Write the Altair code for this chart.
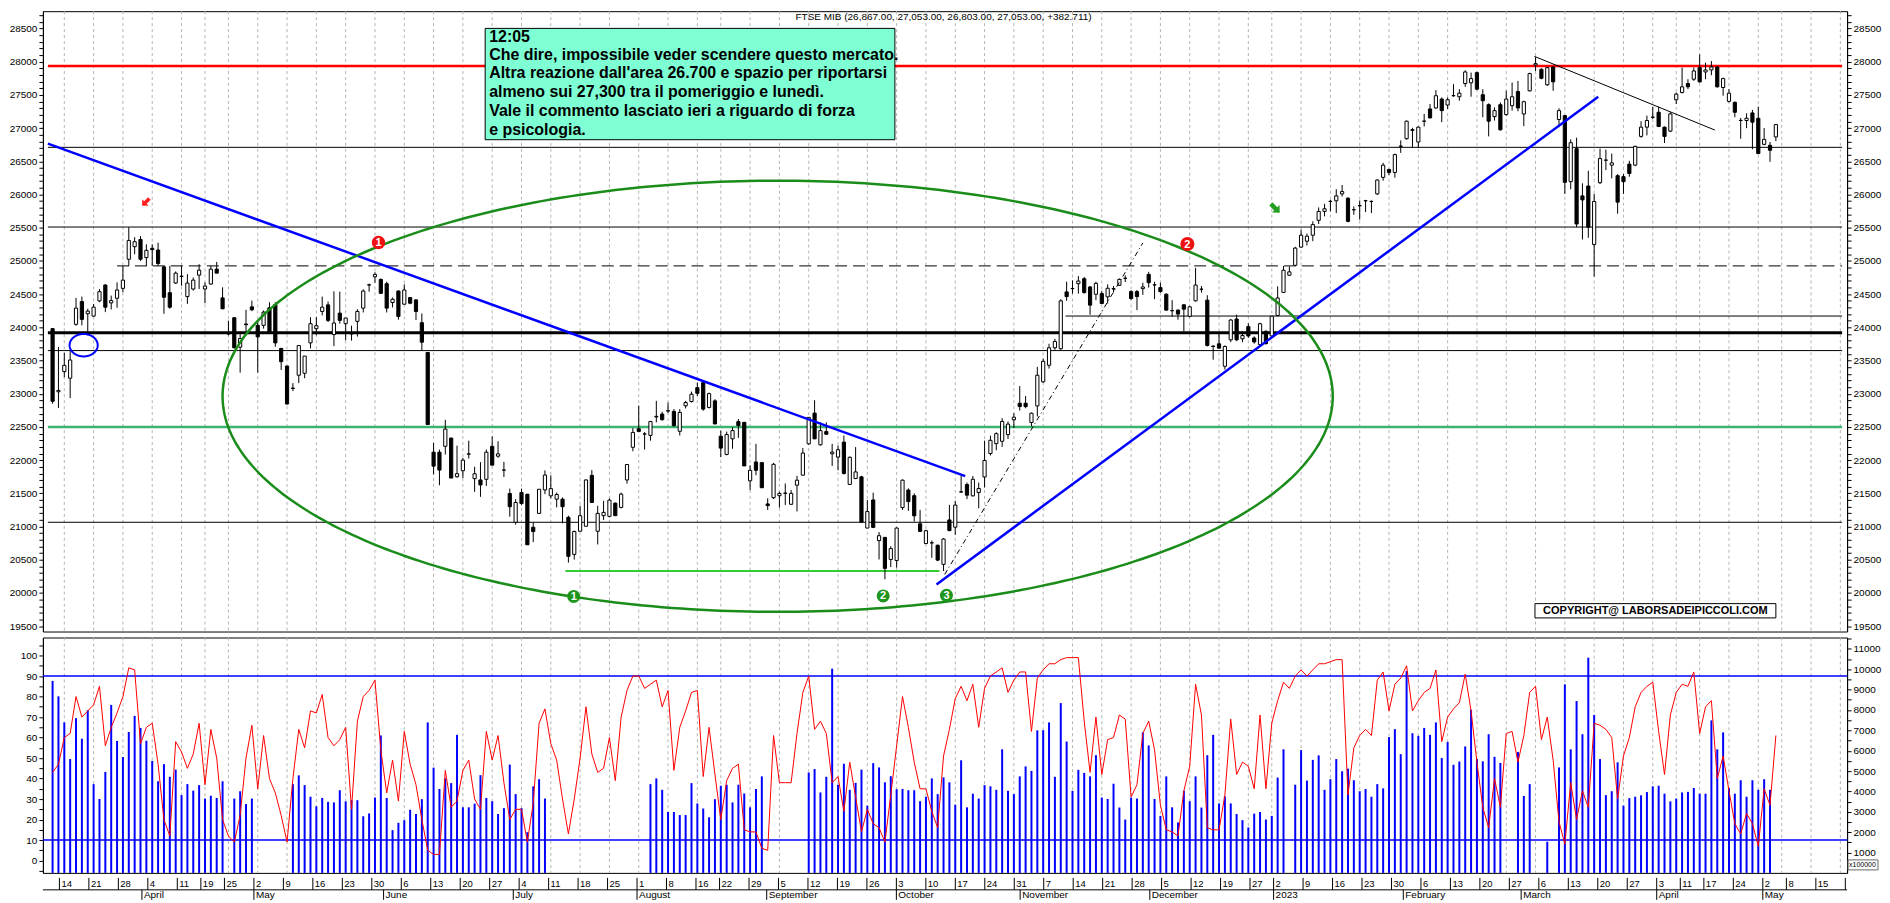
import altair as alt
import pandas as pd
import numpy as np

FONT = "Liberation Sans"

# ---------------- calendar (trading days, Borsa Italiana) ----------------
HOLIDAYS = ["2022-04-15", "2022-04-18", "2022-08-15", "2022-12-26",
            "2023-04-07", "2023-04-10", "2023-05-01"]
CAL = pd.bdate_range("2022-03-10", "2023-05-31")
CAL = CAL[~CAL.isin(pd.to_datetime(HOLIDAYS))]
MONTH_LABEL = {1: "2023", 2: "February", 3: "March", 4: "April", 5: "May", 6: "June",
               7: "July", 8: "August", 9: "September", 10: "October",
               11: "November", 12: "December"}

# ---------------- daily candles ----------------
OPEN = [23980,23030,23333,23234,24045,24388,24204,24169,24398,24637,24368,24438,24587,25025,25214,25323,25050,25190,25164,24910,
        24522,24667,24771,24463,24577,24786,24577,24652,24876,24443,23920,24144,23702,24050,24308,24030,24030,24294,24343,23682,
        23418,23080,23279,23308,23766,23980,24239,24338,23891,24214,24055,23900,24090,24289,24637,24761,24721,24657,24373,24547,
        24348,24448,24413,24070,23622,22120,22120,22209,22333,21751,21841,22090,21722,21702,21712,22209,22060,21850,21498,21065,
        21513,21488,20990,21199,21552,21463,21413,21413,21139,20582,20930,21005,21771,20930,21164,21154,21353,21289,21702,22194,
        22473,22393,22373,22650,22694,22740,22734,22435,22818,22883,23092,23167,22794,22893,22361,22087,22321,22580,22570,21689,
        21973,21963,21341,21435,21465,21500,21336,21624,21774,22246,22709,22231,22430,22097,22047,22271,21635,21724,21749,20978,
        21401,20789,20838,20505,20490,21286,21550,21465,21042,20744,20754,20719,20431,21100,20991,21523,21633,21463,21513,21747,
        22100,22249,22284,22384,22608,22857,22857,22568,22817,23180,23429,23692,23677,24533,24583,24657,24732,24608,24498,24508,
        24459,24578,24633,24737,24538,24538,24583,24797,24638,24598,24498,24250,24259,24339,24165,24399,24573,24409,23717,23752,
        23414,23812,24125,23827,24011,23840,23740,23940,23870,24178,24526,24785,24934,25208,25297,25387,25611,25745,25895,25905,
        26009,25944,25770,25830,25905,25895,26009,26258,26377,26332,26726,26840,26975,26790,27103,27288,27303,27437,27347,27487,
        27472,27671,27681,27835,27502,27352,27173,27352,27203,27337,27551,27213,27561,27950,27885,27651,27920,27129,27188,26193,
        26691,25979,26128,25248,26178,26516,26442,26283,26268,26457,26442,26875,27014,27163,27238,27014,26954,27427,27536,27671,
        27736,27910,27845,27875,27920,27611,27402,27387,27114,27114,27228,27148,26755,26741,26867]
HIGH = [23990,23706,23617,23642,24443,24463,24279,24353,24577,24652,24478,24677,24925,25507,25358,25373,25249,25249,25274,24925,
        24925,24841,24925,24801,24751,24950,24677,24925,24985,24602,24100,24154,23896,24264,24403,24105,24254,24378,24378,23692,
        23418,23160,23726,23567,24154,24154,24463,24388,24542,24537,24140,24025,24274,24572,24657,24831,24736,24687,24448,24557,
        24647,24458,24423,24209,23622,22259,22159,22607,22333,22219,22035,22294,21900,21970,22159,22358,22284,21975,21572,21413,
        21572,21488,21065,21562,21846,21771,21513,21438,21164,20940,21313,21712,21851,21313,21388,21423,21363,21513,21935,22483,
        22821,22423,22592,22893,22729,22868,22769,22769,22893,23032,23167,23206,23017,22918,22445,22430,22495,22620,22570,21923,
        22246,21973,21425,21958,21525,21649,21550,21764,22182,22644,22903,22570,22570,22246,22221,22371,22057,22197,21764,21401,
        21510,20918,20838,20704,20988,21709,21575,21500,21251,20953,20789,20729,20828,21326,21389,21762,21663,21762,21663,22294,
        22369,22419,22633,22583,22707,23115,22966,22717,23404,23528,23752,23827,24424,24687,24707,24772,24757,24623,24687,24548,
        24647,24623,24737,24782,24558,24563,24672,24836,24687,24672,24513,24409,24270,24349,24324,24896,24623,24483,23727,23901,
        23727,24125,24190,23941,24060,23865,24069,23955,24168,24616,24924,24915,25213,25472,25412,25596,25805,25860,25919,26079,
        26143,25959,25820,25909,25919,25909,26228,26477,26387,26616,26815,27114,27004,27024,27213,27362,27571,27462,27462,27661,
        27586,27870,27835,27850,27586,27372,27313,27387,27561,27686,27710,27412,27835,28069,27900,27920,27925,27298,27188,26830,
        26855,26168,26357,26009,26691,26676,26616,26307,26307,26507,26735,27104,27188,27322,27322,27024,27238,27536,27910,27736,
        27910,28109,27985,28009,27935,27760,27586,27402,27153,27223,27273,27322,27000,26790,27053]
LOW = [22851,22786,23249,22935,24025,24030,23880,24164,24378,24229,24269,24294,24527,24925,25100,25000,24925,24925,24925,24204,
       24279,24652,24627,24353,24552,24577,24363,24642,24816,24279,23880,23682,23318,23880,24244,23318,23980,23915,23707,23358,
       22836,23040,23160,23234,23682,23880,24179,24080,23717,24055,23806,23800,23861,24224,24537,24672,24507,24224,24299,24115,
       24348,24348,24110,23652,22537,21786,21622,22085,21731,21736,21731,22025,21523,21448,21612,21925,22035,21746,21149,21030,
       21323,20726,20766,21189,21488,21423,21289,21050,20458,20503,20930,21005,21363,20731,21100,21139,21164,21274,21647,22134,
       22433,22159,22294,22570,22595,22709,22505,22371,22779,22868,22968,22744,22779,22545,22047,22072,22172,22336,21913,21550,
       21774,21585,21251,21415,21286,21326,21326,21227,21774,22231,22321,22221,22381,21913,21848,21784,21625,21714,21067,20978,
       20978,20505,20207,20391,20381,21251,21236,21077,20918,20739,20530,20480,20331,20928,20876,21513,21414,21453,21275,21588,
       22070,22150,22200,22319,22483,22747,22782,22508,22658,23165,23379,23662,23662,24399,24508,24508,24508,24190,24409,24349,
       24359,24523,24623,24682,24414,24259,24488,24598,24424,24523,24250,24160,24115,23941,24150,24389,24523,23712,23513,23677,
       23364,23777,23792,23777,23841,23755,23730,23740,23855,24168,24516,24775,24924,25198,25233,25297,25556,25671,25745,25720,
       25969,25581,25696,25621,25735,25720,25994,26208,26293,26253,26626,26825,26701,26701,27024,27148,27288,27089,27288,27472,
       27412,27621,27472,27571,27163,26875,27114,26964,27188,27263,27253,27029,27551,27860,27735,27636,27561,27014,26009,26079,
       25507,25323,25348,24765,26158,26367,26243,25711,26009,26268,26427,26855,26890,27138,27014,26775,26939,27362,27521,27586,
       27711,27686,27736,27795,27611,27487,27387,27163,26840,26999,26681,26616,26741,26492,26803]
CLOSE = [22886,23050,23428,23508,24289,24120,24244,24304,24537,24303,24403,24562,24711,25308,25289,25025,25159,25170,24960,24453,
         24303,24816,24766,24667,24711,24861,24622,24876,24816,24279,23900,23692,23831,24040,24264,23856,24229,23930,23766,23483,
         22846,23085,23726,23567,24055,24025,24304,24105,24065,24105,24140,23905,24239,24547,24640,24796,24512,24289,24423,24164,
         24562,24363,24239,23776,22537,21910,21851,22468,21731,21796,22000,22095,21796,21627,22120,21925,22095,21851,21299,21363,
         21348,20726,20925,21562,21776,21572,21483,21299,20552,20926,21164,21702,21363,21199,21214,21398,21164,21488,21935,22418,
         22433,22395,22582,22660,22610,22745,22520,22719,22868,22993,23007,22769,23002,22545,22182,22386,22445,22520,21913,21848,
         21848,21585,21316,21938,21500,21505,21500,21699,22107,22644,22321,22445,22391,22122,22157,21799,22043,21823,21067,21226,
         20988,20863,20371,20669,20978,21699,21376,21162,20928,20938,20756,20495,20813,20940,21324,21520,21473,21712,21573,21996,
         22299,22399,22583,22543,22647,22807,22807,22707,23279,23488,23692,23787,24399,24463,24585,24697,24523,24334,24662,24359,
         24588,24583,24722,24739,24434,24463,24608,24672,24640,24538,24259,24252,24200,24274,24309,24637,24575,23727,23712,23687,
         23712,24110,23812,23876,23870,23780,24054,23755,24168,24442,24860,24835,25193,25387,25372,25547,25745,25785,25897,25979,
         26044,25596,25772,25832,25907,25897,26218,26442,26332,26601,26728,27104,26965,27014,27105,27153,27487,27263,27427,27489,
         27526,27845,27745,27586,27412,27104,27263,26974,27437,27472,27303,27397,27820,27970,27750,27910,27696,27263,26183,26780,
         25556,25919,25507,25895,26541,26518,26477,25885,26193,26317,26725,27014,27114,27165,27024,26875,27213,27511,27621,27621,
         27860,27696,27875,27920,27621,27745,27526,27238,27116,27148,27089,26616,26830,26666,27053]

# ---------------- lower panel: oscillator (red) and volume (blue, x100000) ----------------
OSC = [43,47,60,62,80,70,73,76,85,56,65,72,80,94,93,57,65,67,47,20,12,58,53,45,52,67,37,64,50,20,
       12,9,22,50,66,35,61,40,33,22,9,40,64,55,73,72,81,60,56,59,65,25,68,80,83,88,54,33,49,29,
       63,47,37,20,5,3,3,44,26,29,44,49,30,25,63,49,61,38,20,25,25,9,28,67,74,57,49,30,13,30,
       50,75,52,43,45,60,39,70,83,90,90,
       84,86,88,75,83,44,65,73,82,
       83,41,65,42,20,39,45,47,15,14,14,6,5,61,38,38,38,62,82,90,64,68,62,38,41,24,48,31,14,25,
       18,16,9,32,56,80,65,48,35,35,24,16,51,64,79,85,78,86,65,84,90,92,94,82,88,92,92,63,89,93,
       96,96,98,99,99,99,68,43,70,42,59,60,71,69,31,37,62,68,54,27,15,14,12,34,46,86,71,16,15,15,
       32,69,42,48,46,35,71,35,67,78,
       87,84,90,93,90,93,96,96,97,98,98,32,55,61,64,61,88,92,73,86,89,95,73,78,82,84,93,58,70,74,
       77,91,73,48,26,16,40,26,62,63,48,61,82,85,59,70,49,19,8,38,20,34,26,67,66,64,60,30,51,60,
       75,82,85,87,63,42,71,82,86,85,92,62,75,78,40,51,34,18,13,23,18,7,35,27,61]
VOL_K = [9.43,8.67,7.39,5.59,7.60,6.59,7.99,4.36,3.63,4.96,8.25,6.48,5.69,6.92,7.71,7.12,6.49,5.50,4.50,5.34,
         4.72,5.07,3.82,4.36,4.04,4.31,3.65,3.79,3.68,4.50,0,3.65,4.01,3.38,3.65,0,0,0,0,0,
         0,4.36,4.79,4.31,3.74,3.27,3.68,3.49,3.46,4.06,3.51,3.57,3.57,2.78,2.92,3.70,6.75,3.68,2.10,2.46,
         2.59,3.10,2.89,3.62,7.39,5.17,4.12,4.64,4.41,6.78,3.22,3.22,3.40,4.80,3.68,3.52,2.89,3.18,5.32,3.87,
         3.18,2.00,4.25,4.60,3.65,0,0,0,0,0,0,0,0,0,0,0,0,0,0,0,
         0,0,4.36,4.64,4.08,2.99,2.99,2.84,2.84,4.41,3.41,3.16,2.73,3.62,4.28,4.33,3.46,4.33,3.90,3.22,
         4.12,4.74,0,0,0,0,0,0,0,4.93,5.10,3.95,4.72,10.03,4.33,5.36,4.08,4.42,5.07,3.30,
         5.39,5.18,4.45,4.75,4.11,4.12,4.06,4.06,3.52,3.74,4.64,3.87,4.69,4.45,3.35,5.53,3.22,3.89,3.65,4.31,
         4.25,4.08,6.07,4.03,3.87,4.74,5.23,5.01,7.00,7.01,7.39,4.72,8.34,6.45,4.03,5.06,4.91,4.74,5.78,3.70,
         3.63,4.38,3.21,2.62,3.70,3.65,6.90,6.26,3.63,2.80,4.74,3.22,2.48,4.03,3.52,4.74,3.21,5.78,6.78,3.41,
         3.76,3.41,2.89,2.59,2.23,2.91,2.99,2.62,2.80,4.68,6.07,0,4.33,6.03,4.53,5.55,5.77,4.08,4.60,5.59,
         4.99,5.12,4.55,4.01,4.12,3.74,4.36,4.15,6.67,7.06,5.83,9.91,6.86,6.73,7.12,6.78,7.39,5.64,6.43,5.31,
         5.47,6.21,8.01,5.59,5.48,6.81,5.70,5.40,0,0,5.94,3.78,4.36,0,0,1.53,0,5.18,9.26,6.07,
         8.44,6.81,10.57,7.76,5.59,3.82,4.01,5.43,3.30,3.67,3.74,3.81,3.97,4.25,4.28,3.89,3.51,3.65,3.95,3.98,
         4.17,3.89,3.89,7.49,6.07,6.90,4.17,3.89,4.55,3.74,4.55,4.08,4.60,4.08,0]

# ---------------- drawn annotations (in day-index / price units) ----------------
LEVEL_Y = [27935, 26710, 25510, 24170, 23920, 23650, 22500, 21065, 20330]
LEVEL_X1 = [-0.8, -0.8, -0.8, 172.8, -0.8, -0.8, -0.8, -0.8, 87.5]
LEVEL_X2 = [305.3, 305.3, 305.3, 305.3, 305.3, 305.3, 305.3, 305.3, 151.3]
LEVEL_COLOR = ["#ff0000", "#000000", "#000000", "#000000", "#000000", "#000000", "#3cb371", "#000000", "#33cc33"]
LEVEL_W = [2.5, 1, 1, 1, 3, 1, 2.5, 1, 2]
DASHED_LEVEL = {"y": 24925, "x1": 11, "x2": 305.3}
TREND_X1 = [-0.8, 150.8, 252.8]
TREND_Y1 = [26766, 20129, 28080]
TREND_X2 = [155.7, 263.7, 283.6]
TREND_Y2 = [21760, 27472, 26970]
TREND_COLOR = ["#0000ff", "#0000ff", "#000000"]
TREND_W = [2.5, 2.5, 1]
DASHDOT = {"x1": 152.2, "y1": 20280, "x2": 186.0, "y2": 25270}
BIG_ELLIPSE = {"cx": 123.7, "cy": 22962, "rx": 94.7, "ry": 3246}
SMALL_ELLIPSE = {"cx": 5.3, "cy": 23731, "rx": 2.4, "ry": 169}
MARK_X = [55.6, 193.6, 88.9, 141.7, 152.5]
MARK_Y = [25278, 25254, 19948, 19956, 19965]
MARK_LABEL = ["1", "2", "1", "2", "3"]
MARK_COLOR = ["#ee1111", "#ee1111", "#1e961e", "#1e961e", "#1e961e"]
MARK_SIZE = [180, 200, 170, 170, 170]
ARROW_X = [15.9, 208.6]
ARROW_Y = [25885, 25791]
ARROW_ANGLE = [45, 315]
ARROW_COLOR = ["#ff2020", "#23a023"]
ARROW_SIZE = [110, 160]
NOTE_BOX = {"x1": 73.8, "x2": 143.7, "y1": 26825, "y2": 28501}
NOTE_LINES = ["12:05",
              "Che dire, impossibile veder scendere questo mercato.",
              "Altra reazione dall'area 26.700 e spazio per riportarsi",
              "almeno sui 27,300 tra il pomeriggio e lunedì.",
              "Vale il commento lasciato ieri a riguardo di forza",
              "e psicologia."]
NOTE_Y = [28378, 28105, 27822, 27540, 27258, 26975]
TITLE = "FTSE MIB (26,867.00, 27,053.00, 26,803.00, 27,053.00, +382.711)"
COPY_BOX = {"x1": 252.9, "x2": 294.0, "y1": 19625, "y2": 19840}
COPY_TEXT = "COPYRIGHT@ LABORSADEIPICCOLI.COM"

# ---------------- layout ----------------
X_DOM = [-0.8, 305.3]
P_DOM = [19420, 28760]
W, H_P, H_O, H_S = 1809, 622, 236, 22

xs = alt.Scale(domain=X_DOM, nice=False, zero=False)
ps = alt.Scale(domain=P_DOM, nice=False, zero=False)
vs = alt.Scale(domain=[0, 11560], nice=False, zero=False)
os_ = alt.Scale(domain=[-6, 108.8], nice=False, zero=False)


def X(f="i"):
    return alt.X(f"{f}:Q", scale=xs, axis=None)


def PY(f, axis=None):
    return alt.Y(f"{f}:Q", scale=ps, axis=axis)


def mk_axis(orient, values, expr):
    return alt.Axis(orient=orient, values=values, labelExpr=expr, tickSize=4, labelPadding=2,
                    labelOverlap=False, labelFlush=False, title=None, grid=False,
                    labelFont=FONT, labelFontSize=10, labelColor="black",
                    tickColor="black", domainColor="black")


price_ticks = list(range(19500, 28701, 100))
p_expr = "datum.value % 500 == 0 ? datum.value : ''"

# data frames
n = len(CLOSE)
cd = pd.DataFrame({"i": range(n), "open": OPEN, "high": HIGH, "low": LOW, "close": CLOSE})
cd["lo"] = cd[["open", "close"]].min(axis=1)
cd["hi"] = cd[["open", "close"]].max(axis=1)
cd["fill"] = np.where(cd["close"] >= cd["open"], "#ffffff", "#000000")

weeks, months = [], []
prev = None
for i, d in enumerate(CAL):
    if i > X_DOM[1]:
        break
    if prev is not None:
        if d.isocalendar()[1] != prev.isocalendar()[1]:
            weeks.append({"i": i, "label": str(d.day)})
        if d.month != prev.month:
            months.append({"i": i, "label": MONTH_LABEL[d.month]})
    prev = d
wk = pd.DataFrame(weeks)
mo = pd.DataFrame(months)

lv = pd.DataFrame({"y": LEVEL_Y, "x1": LEVEL_X1, "x2": LEVEL_X2, "c": LEVEL_COLOR, "w": LEVEL_W})
tr = pd.DataFrame({"x1": TREND_X1, "y1": TREND_Y1, "x2": TREND_X2, "y2": TREND_Y2, "c": TREND_COLOR, "w": TREND_W})


def ellipse_df(e):
    t = np.linspace(0, 2 * np.pi, 361)
    return pd.DataFrame({"k": range(len(t)), "x": e["cx"] + e["rx"] * np.cos(t),
                         "y": e["cy"] + e["ry"] * np.sin(t)})


grid_p = alt.Chart(wk).mark_rule(color="#b4b4b4", strokeDash=[3, 3], strokeWidth=1).encode(x=X())
levels = alt.Chart(lv).mark_rule().encode(
    x=X("x1"), x2="x2:Q", y=PY("y"),
    color=alt.Color("c:N", scale=None), strokeWidth=alt.StrokeWidth("w:Q", scale=None))
dashed = alt.Chart(pd.DataFrame([DASHED_LEVEL])).mark_rule(color="black", strokeDash=[12, 6], strokeWidth=1).encode(
    x=X("x1"), x2="x2:Q", y=PY("y"))
wicks = alt.Chart(cd).mark_rule(color="black", strokeWidth=1).encode(
    x=X(), y=PY("low", mk_axis("left", price_ticks, p_expr)), y2="high:Q")
bodies = alt.Chart(cd).mark_bar(size=3.2, stroke="black", strokeWidth=1).encode(
    x=X(), y=PY("lo", mk_axis("right", price_ticks, p_expr)), y2="hi:Q",
    fill=alt.Fill("fill:N", scale=None))
trends = alt.Chart(tr).mark_rule().encode(
    x=X("x1"), x2="x2:Q", y=PY("y1"), y2="y2:Q",
    color=alt.Color("c:N", scale=None), strokeWidth=alt.StrokeWidth("w:Q", scale=None))
dashdot = alt.Chart(pd.DataFrame([DASHDOT])).mark_rule(color="black", strokeWidth=1, strokeDash=[5, 3, 1, 3]).encode(
    x=X("x1"), x2="x2:Q", y=PY("y1"), y2="y2:Q")
big_ell = alt.Chart(ellipse_df(BIG_ELLIPSE)).mark_line(color="#1a8c1a", strokeWidth=2.5).encode(
    x=X("x"), y=PY("y"), order="k:Q")
small_ell = alt.Chart(ellipse_df(SMALL_ELLIPSE)).mark_line(color="#0000ff", strokeWidth=2).encode(
    x=X("x"), y=PY("y"), order="k:Q")
note_rect = alt.Chart(pd.DataFrame([NOTE_BOX])).mark_rect(fill="#7fffd4", stroke="black", strokeWidth=1).encode(
    x=X("x1"), x2="x2:Q", y=PY("y1"), y2="y2:Q")
note_txt = alt.Chart(pd.DataFrame({"x": [NOTE_BOX["x1"]] * len(NOTE_LINES), "y": NOTE_Y, "t": NOTE_LINES})).mark_text(
    align="left", baseline="middle", dx=4, font=FONT, fontSize=16, fontWeight="bold", color="black").encode(
    x=X("x"), y=PY("y"), text="t:N")
title_txt = alt.Chart(pd.DataFrame({"x": [152.0], "t": [TITLE]})).mark_text(
    align="center", baseline="middle", font=FONT, fontSize=10, color="black").encode(
    x=X("x"), y=alt.value(6), text="t:N")
marks = pd.DataFrame({"x": MARK_X, "y": MARK_Y, "t": MARK_LABEL, "c": MARK_COLOR, "s": MARK_SIZE})
mark_dots = alt.Chart(marks).mark_circle(opacity=1).encode(
    x=X("x"), y=PY("y"), color=alt.Color("c:N", scale=None), size=alt.Size("s:Q", scale=None))
mark_txt = alt.Chart(marks).mark_text(font=FONT, fontSize=11, fontWeight="bold", color="white",
                                      baseline="middle", dy=0.5).encode(x=X("x"), y=PY("y"), text="t:N")
ARROW_PATH = "M-0.35,-1L0.35,-1L0.35,0.1L0.85,0.1L0,1L-0.85,0.1L-0.35,0.1Z"
arrows = alt.Chart(pd.DataFrame({"x": ARROW_X, "y": ARROW_Y, "a": ARROW_ANGLE, "c": ARROW_COLOR,
                                 "s": ARROW_SIZE})).mark_point(
    shape=ARROW_PATH, filled=True, opacity=1).encode(
    x=X("x"), y=PY("y"), angle=alt.Angle("a:Q", scale=None), color=alt.Color("c:N", scale=None),
    size=alt.Size("s:Q", scale=None))
copy_rect = alt.Chart(pd.DataFrame([COPY_BOX])).mark_rect(fill="white", stroke="black", strokeWidth=1).encode(
    x=X("x1"), x2="x2:Q", y=PY("y1"), y2="y2:Q")
copy_txt = alt.Chart(pd.DataFrame({"x": [(COPY_BOX["x1"] + COPY_BOX["x2"]) / 2],
                                   "y": [(COPY_BOX["y1"] + COPY_BOX["y2"]) / 2], "t": [COPY_TEXT]})).mark_text(
    font=FONT, fontSize=11, fontWeight="bold", color="black", baseline="middle").encode(
    x=X("x"), y=PY("y"), text="t:N")

price = alt.layer(grid_p, levels, dashed, wicks, bodies, trends, dashdot, big_ell, small_ell,
                  note_rect, note_txt, title_txt, mark_dots, mark_txt, arrows, copy_rect, copy_txt
                  ).resolve_axis(y="independent").properties(width=W, height=H_P)

# ---------------- lower panel ----------------
od = pd.DataFrame({"i": range(n), "osc": OSC, "vol": [v * 1000 for v in VOL_K]})
vd = od[od["vol"] > 0]
grid_o = alt.Chart(wk).mark_rule(color="#b4b4b4", strokeDash=[3, 3], strokeWidth=1).encode(x=X())
vol_bars = alt.Chart(vd).mark_bar(color="#0000ff", size=2).encode(
    x=X(), y=alt.Y("vol:Q", scale=vs,
                   axis=mk_axis("right", list(range(500, 11501, 500)),
                                "datum.value >= 1000 && datum.value % 1000 == 0 ? datum.value : ''")),
    y2=alt.datum(0))
osc_lines = alt.Chart(pd.DataFrame({"v": [90, 10]})).mark_rule(color="#0000ff", strokeWidth=1.5).encode(
    y=alt.Y("v:Q", scale=os_, axis=None))
osc_line = alt.Chart(od).mark_line(color="#ff0000", strokeWidth=1).encode(
    x=X(), y=alt.Y("osc:Q", scale=os_,
                   axis=mk_axis("left", list(range(-5, 106, 5)),
                                "datum.value >= 0 && datum.value % 10 == 0 ? datum.value : ''")))
unit_box = alt.Chart(pd.DataFrame({"t": ["x100000"]})).mark_rect(fill="white", stroke="#666666", strokeWidth=1).encode(
    x=alt.value(W + 1), x2=alt.value(W + 31), y=alt.value(H_O - 13), y2=alt.value(H_O - 3))
unit_txt = alt.Chart(pd.DataFrame({"t": ["x100000"]})).mark_text(
    align="left", baseline="middle", font=FONT, fontSize=7, color="black").encode(
    x=alt.value(W + 2), y=alt.value(H_O - 8), text="t:N")
lower = alt.layer(grid_o, vol_bars, osc_lines, osc_line, unit_box, unit_txt
                  ).resolve_scale(y="independent").resolve_axis(y="independent").properties(width=W, height=H_O)

# ---------------- date strip ----------------
wk_ticks = alt.Chart(wk).mark_rule(color="black").encode(x=X(), y=alt.value(0), y2=alt.value(12))
wk_txt = alt.Chart(wk).mark_text(align="left", baseline="middle", dx=2, font=FONT, fontSize=9.5,
                                 color="black", clip=True).encode(x=X(), y=alt.value(6.5), text="label:N")
sep = alt.Chart(pd.DataFrame({"a": [0]})).mark_rule(color="black").encode(
    x=alt.value(0), x2=alt.value(W), y=alt.value(12))
mo_ticks = alt.Chart(mo).mark_rule(color="black").encode(x=X(), y=alt.value(12), y2=alt.value(H_S))
mo_txt = alt.Chart(mo).mark_text(align="left", baseline="middle", dx=2, font=FONT, fontSize=10,
                                 color="black").encode(x=X(), y=alt.value(17.5), text="label:N")
strip = alt.layer(wk_ticks, wk_txt, sep, mo_ticks, mo_txt).properties(
    width=W, height=H_S, view=alt.ViewBackground(stroke="transparent"))

chart = alt.vconcat(price, lower, strip, spacing=0).properties(
    padding={"left": 0, "top": 0, "right": 0, "bottom": 0}
).configure(font=FONT).configure_view(stroke="black", strokeWidth=1)

chart.save("out.html", embed_options={"renderer": "svg", "actions": False})
